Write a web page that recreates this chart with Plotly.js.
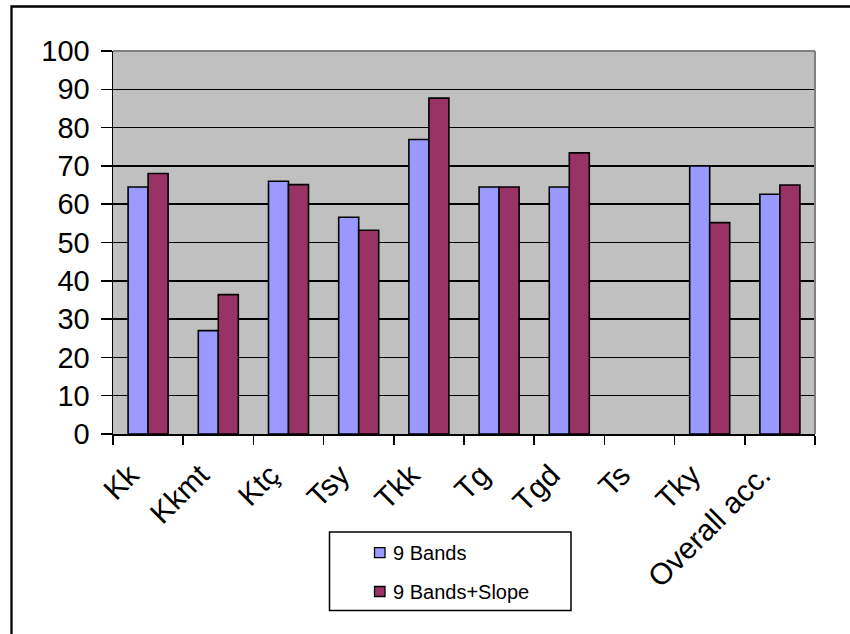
<!DOCTYPE html>
<html>
<head>
<meta charset="utf-8">
<script src="https://cdn.plot.ly/plotly-3.0.1.min.js"></script>
<style>
  html, body { margin: 0; padding: 0; background: #ffffff; }
  #chart { width: 850px; height: 634px; }
</style>
</head>
<body>
<div id="chart"></div>
<script>
// Classification accuracy (%) per land-cover class
const categories = ["Kk", "Kkmt", "Ktç", "Tsy", "Tkk", "Tg", "Tgd", "Ts", "Tky", "Overall acc."];
const bands9 = [64.5, 27.0, 66.0, 56.6, 76.9, 64.5, 64.5, null, 70.0, 62.6];
const bands9Slope = [68.0, 36.4, 65.1, 53.2, 87.7, 64.5, 73.4, null, 55.2, 65.0];
const seriesNames = ["9 Bands", "9 Bands+Slope"];
const seriesColors = ["#9999FF", "#993366"];
const yTicks = [0, 10, 20, 30, 40, 50, 60, 70, 80, 90, 100];

// plot area in pixels (for placing the hand-drawn legend and frame)
const L = 113, R = 35, T = 51, B = 200, W = 850, H = 634;
const pw = W - L - R, ph = H - T - B;
const px = x => (x - L) / pw;
const py = y => (H - B - y) / ph;

const traces = [bands9, bands9Slope].map((vals, i) => ({
  type: "bar",
  name: seriesNames[i],
  x: categories,
  y: vals,
  marker: { color: seriesColors[i], line: { color: "#000000", width: 1.6 } },
  showlegend: false,
  hoverinfo: "x+y+name"
}));

const shapes = [
  // outer chart frame
  { type: "rect", xref: "paper", yref: "paper", x0: px(11.5), x1: 1.2, y0: -0.7, y1: py(6.5),
    line: { color: "#000000", width: 2.3 }, layer: "below" },
  // plot area top and right border
  { type: "line", xref: "paper", yref: "paper", x0: 0, x1: 1, y0: 1, y1: 1,
    line: { color: "#808080", width: 2 }, layer: "above" },
  { type: "line", xref: "paper", yref: "paper", x0: 1, x1: 1, y0: 0, y1: 1,
    line: { color: "#808080", width: 2 }, layer: "above" },
  // legend box
  { type: "rect", xref: "paper", yref: "paper", x0: px(329.5), x1: px(571), y0: py(610.5), y1: py(532),
    line: { color: "#000000", width: 1.5 }, fillcolor: "#ffffff" }
];

const legendRows = [552.7, 591.5];
const annotations = [];
seriesNames.forEach((name, i) => {
  const yc = legendRows[i];
  shapes.push({ type: "rect", xref: "paper", yref: "paper",
    x0: px(374.5), x1: px(385), y0: py(yc + 5), y1: py(yc - 5),
    fillcolor: seriesColors[i], line: { color: "#000000", width: 1.3 } });
  annotations.push({ xref: "paper", yref: "paper", x: px(391), y: py(yc),
    xanchor: "left", yanchor: "middle", showarrow: false, text: name,
    font: { family: "Liberation Sans, Arial, sans-serif", size: 20, color: "#000000" } });
});

const layout = {
  width: W, height: H,
  margin: { l: L, r: R, t: T, b: B, pad: 0 },
  paper_bgcolor: "#ffffff",
  plot_bgcolor: "#C0C0C0",
  barmode: "group",
  bargap: 0.43,
  bargroupgap: 0,
  font: { family: "Liberation Sans, Arial, sans-serif", color: "#000000" },
  xaxis: {
    type: "category",
    tickangle: -45,
    ticks: "outside",
    tickson: "boundaries",
    ticklen: 9,
    tickwidth: 1.5,
    tickcolor: "#000000",
    showline: true,
    linecolor: "#000000",
    linewidth: 1.5,
    showgrid: false,
    ticklabelstandoff: 10,
    ticklabelshift: -18,
    tickfont: { size: 30, color: "#000000" }
  },
  yaxis: {
    range: [0, 100],
    tickvals: yTicks,
    ticks: "outside",
    ticklen: 11,
    tickwidth: 1.5,
    tickcolor: "#000000",
    showline: true,
    linecolor: "#000000",
    linewidth: 1.5,
    showgrid: true,
    gridcolor: "#000000",
    gridwidth: 1.5,
    zeroline: false,
    ticklabelstandoff: 5,
    tickfont: { size: 29, color: "#000000" }
  },
  shapes: shapes,
  annotations: annotations,
  showlegend: false
};

Plotly.newPlot("chart", traces, layout, { displayModeBar: false, staticPlot: true });
</script>
</body>
</html>
